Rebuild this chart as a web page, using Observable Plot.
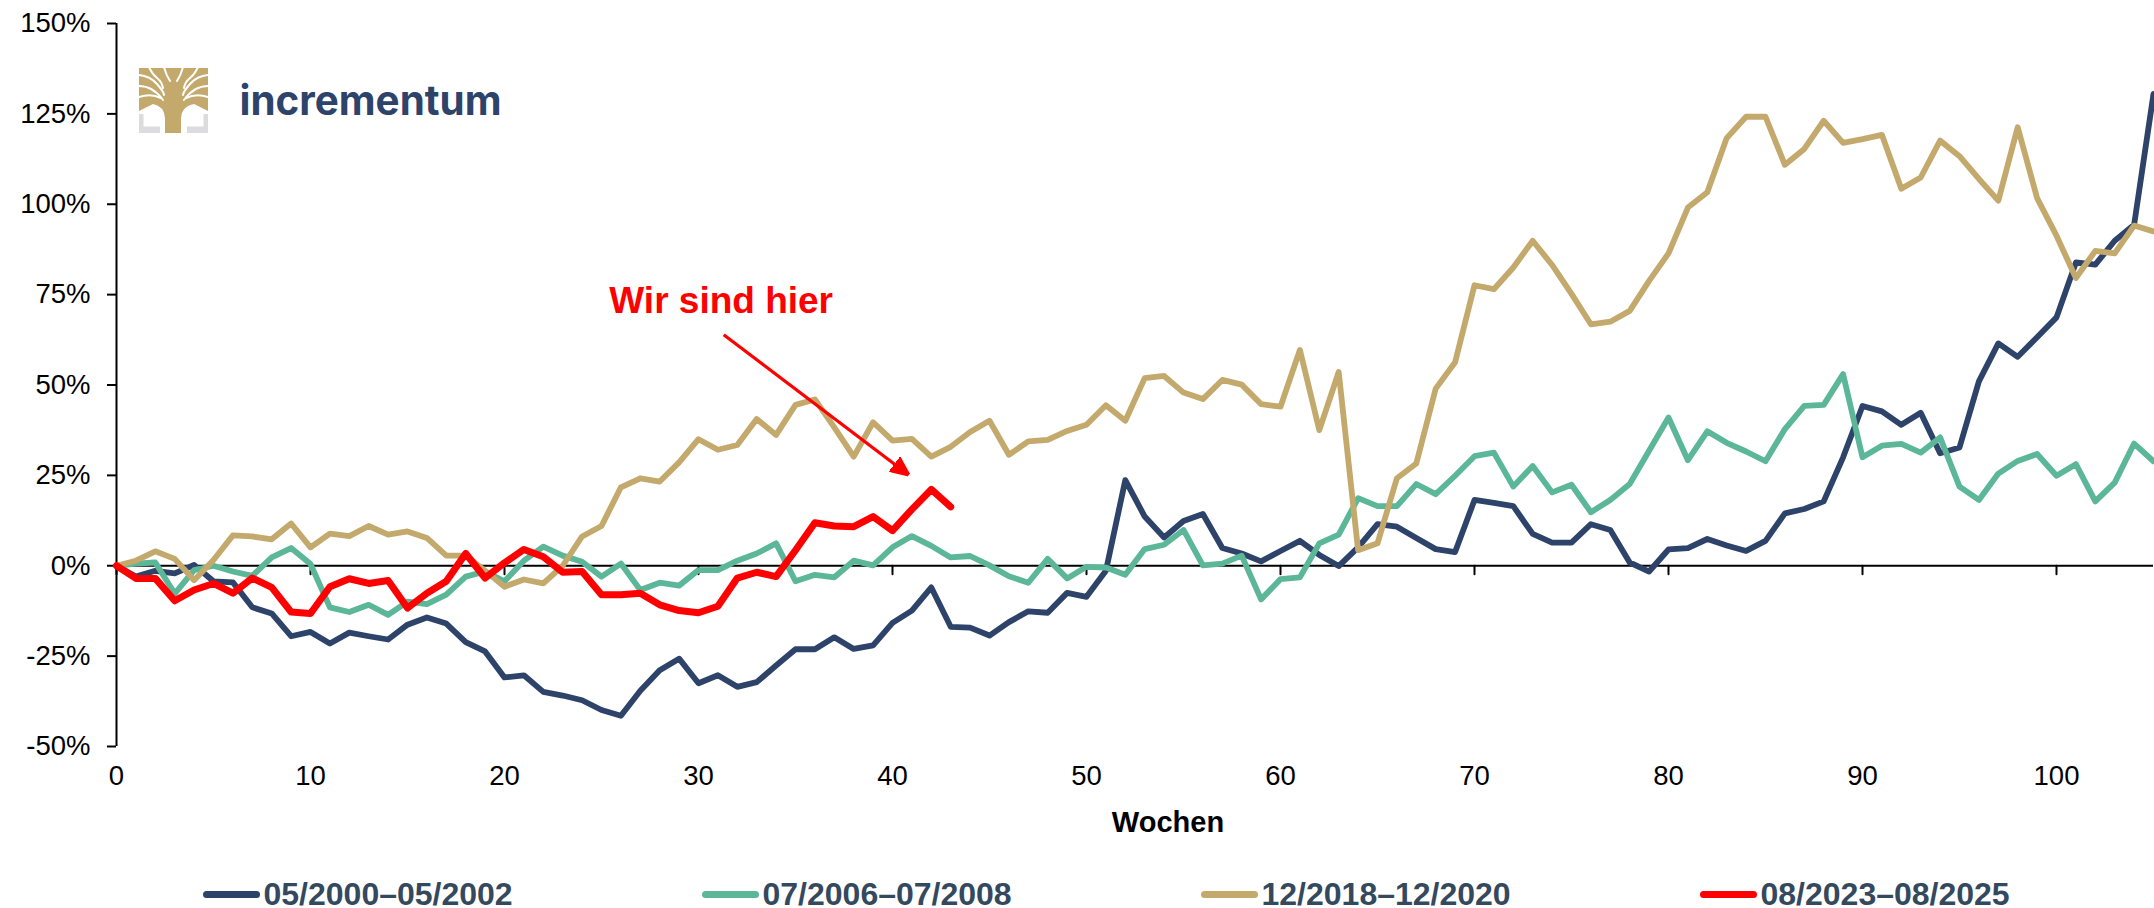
<!DOCTYPE html>
<html lang="de">
<head>
<meta charset="utf-8">
<script src="https://cdn.jsdelivr.net/npm/d3@7"></script>
<script src="https://cdn.jsdelivr.net/npm/@observablehq/plot@0.6"></script>
<style>
  html, body { margin: 0; padding: 0; background: #fff; overflow: hidden; }
  #chart { position: relative; width: 2154px; height: 908px; font-family: "Liberation Sans", Arial, sans-serif; }
  #chart svg.plot { display: block; }
  #logo { position: absolute; left: 139px; top: 68px; }
  #wordmark { position: absolute; left: 236px; top: 70px; }
  #legend { position: absolute; left: 203px; top: 874px; display: flex; }
  .item { width: 499px; display: flex; align-items: center; font-weight: 700; font-size: 32px; line-height: 40px; color: #34495e; white-space: nowrap; }
  .key { width: 57px; height: 7px; border-radius: 3.5px; margin-right: 3.5px; flex: none; }
</style>
</head>
<body>
<div id="chart"></div>
<script>
const navy = [0,-3,-1.4,-2.1,0.2,-4.3,-4.6,-11.5,-13.2,-19.5,
  -18.3,-21.5,-18.5,-19.5,-20.4,-16.3,-14.3,-16,-21.1,-23.7,
  -30.9,-30.3,-34.9,-35.9,-37.2,-39.9,-41.5,-34.6,-28.9,-25.7,
  -32.5,-30.3,-33.5,-32.2,-27.6,-23.1,-23.1,-19.8,-23,-22,
  -15.8,-12.4,-6,-16.9,-17.1,-19.3,-15.6,-12.6,-13,-7.5,
  -8.6,-1.4,23.7,13.6,7.8,12.4,14.3,4.9,3.4,1.2,
  4.1,6.9,3,-0.1,5.1,11.5,10.8,7.7,4.6,3.8,
  18.2,17.4,16.5,8.8,6.4,6.4,11.5,9.9,0.9,-1.6,
  4.5,4.9,7.4,5.6,4.1,6.9,14.5,15.7,17.8,30,
  44.2,42.7,39,42.3,31.1,32.7,51,61.5,57.8,63.2,
  68.7,83.9,83.3,89.9,94.3,130.5];
const green = [0,0.6,0.9,-7.7,-1.2,0,-1.6,-2.8,2.3,4.9,
  0.5,-11.5,-12.8,-10.8,-13.6,-9.9,-10.6,-8,-3,-1.6,
  -4.3,1.4,5.3,2.8,1.1,-3,0.6,-6.7,-4.7,-5.5,
  -1.2,-1.2,1.4,3.4,6.2,-4.3,-2.5,-3.2,1.4,0.1,
  5.1,8.2,5.5,2.3,2.7,0.1,-2.9,-4.7,1.9,-3.5,
  -0.3,-0.5,-2.5,4.6,5.8,9.9,0.1,0.6,2.8,-9.3,
  -3.7,-3.2,6.2,8.6,18.7,16.5,16.5,22.6,19.8,24.9,
  30.3,31.3,21.9,27.6,20.3,22.4,14.8,18.2,22.6,31.8,
  41,29.2,37.2,34,31.6,28.9,37.8,44.2,44.5,53,
  30,33.2,33.7,31.3,35.5,21.9,18.2,25.5,29,30.9,
  24.9,28.1,17.8,23,33.8,28.9];
const gold = [0,1.4,4,1.9,-4,1.6,8.4,8.1,7.3,11.7,
  5.1,8.9,8.2,11,8.6,9.5,7.7,2.8,2.8,-1.4,
  -5.8,-3.8,-4.9,0,8.1,11,21.7,24.2,23.3,28.6,
  35,32.1,33.4,40.6,36.2,44.5,46,38.3,30.2,39.7,
  34.6,35.1,30.2,32.9,37,40.1,30.7,34.4,34.8,37.3,
  39,44.4,40.1,51.9,52.5,47.9,46.1,51.4,50.1,44.7,
  44,59.7,37.5,53.6,4.3,6.2,24.2,28.3,49,56.3,
  77.6,76.5,82.5,89.9,83.2,75.2,66.8,67.5,70.5,78.8,
  86.4,99.1,103.3,118.3,124.2,124.2,110.9,115.3,123.1,117,
  118,119.2,104.3,107.4,117.6,113.3,107,101,121.3,101.7,
  91.3,79.6,87.1,86.4,94.1,92.5];
const red = [0,-3.5,-3.5,-9.7,-6.7,-4.9,-7.6,-3.4,-6,-12.8,
  -13.2,-5.8,-3.6,-4.9,-4.1,-11.7,-7.6,-4.3,3.4,-3.4,
  0.8,4.5,2.5,-1.8,-1.6,-8,-8,-7.6,-10.8,-12.4,
  -13,-11.2,-3.4,-1.8,-3,4.3,11.9,11,10.8,13.6,
  9.7,15.6,21.1,16.3];

const seriesLabels = ["05/2000–05/2002","07/2006–07/2008","12/2018–12/2020","08/2023–08/2025"];
const seriesColors = ["#2E4369","#5BB798","#C3A96C","#FF0000"];
const seriesWidths = [5.8,5.8,5.8,7];
const seriesValues = [navy,green,gold,red];

const xTicks = [0,10,20,30,40,50,60,70,80,90,100];
const yTicks = [-50,-25,0,25,50,75,100,125,150];
const xLabel = [{week: 54.2, text: "Wochen"}];
const note = [{week: 25.4, pct: 69.8, text: "Wir sind hier"}];
const arrow = [{week1: 31.3, pct1: 63.9, week2: 40.84, pct2: 25.1}];

function headMarker(color, context) {
  const m = context.document.createElementNS("http://www.w3.org/2000/svg", "marker");
  m.setAttribute("viewBox", "-18 -9 18 18");
  m.setAttribute("markerWidth", 18);
  m.setAttribute("markerHeight", 18);
  m.setAttribute("markerUnits", "userSpaceOnUse");
  m.setAttribute("orient", "auto");
  m.setAttribute("refX", 0);
  m.setAttribute("refY", 0);
  const p = context.document.createElementNS("http://www.w3.org/2000/svg", "path");
  p.setAttribute("d", "M0,0L-18,-8L-18,8Z");
  p.setAttribute("fill", color);
  m.appendChild(p);
  return m;
}
const tickShape = {draw(c, l) { c.moveTo(0, 0); c.lineTo(0, -l); }};

const marks = [
  Plot.axisY({ticks: yTicks, tickFormat: d => d + "%", tickSize: 9, tickPadding: 17, fontSize: 27.5, label: null, stroke: "#000", color: "#000", strokeWidth: 2}),
  Plot.axisX({ticks: xTicks, tickSize: 0, tickPadding: 19, fontSize: 27.5, label: null, color: "#000", tickFormat: d => String(d)}),
  Plot.ruleX([0], {stroke: "#000", strokeWidth: 2}),
  Plot.vector(xTicks, {x: d => d, y: () => 0, length: 8.5, rotate: 180, anchor: "start", shape: tickShape, stroke: "#000", strokeWidth: 2}),
  Plot.ruleY([0], {stroke: "#000", strokeWidth: 2}),
  ...seriesValues.map((vals, k) => Plot.line(vals, {
    x: (d, i) => i, y: d => d, stroke: seriesColors[k], strokeWidth: seriesWidths[k],
    strokeLinejoin: "round", strokeLinecap: "round", curve: "linear"
  })),
  Plot.link(arrow, {x1: "week1", y1: "pct1", x2: "week2", y2: "pct2", stroke: "#FF0000", strokeWidth: 3.2, markerEnd: headMarker}),
  Plot.text(note, {x: "week", y: "pct", text: "text", fill: "#FF0000", fontWeight: 700, fontSize: 37, textAnchor: "start", lineAnchor: "bottom"}),
  Plot.text(xLabel, {x: "week", text: "text", frameAnchor: "bottom", fontWeight: 700, fontSize: 29, fill: "#000", lineAnchor: "middle", dy: 76})
];

const plot = Plot.plot({
  width: 2154, height: 870,
  marginLeft: 116, marginRight: 1, marginTop: 23, marginBottom: 124,
  style: {background: "transparent", fontFamily: '"Liberation Sans", Arial, sans-serif', overflow: "visible"},
  x: {domain: [0, 105], range: [116, 2153]},
  y: {domain: [-50, 150], range: [746, 23]},
  marks
});

const chart = document.getElementById("chart");
chart.appendChild(plot);

// Logo: tree mark and wordmark
chart.insertAdjacentHTML("beforeend", `
<svg id="logo" width="69" height="65" viewBox="0 0 69 65">
  <path d="M0 46H4.5V58.5H21V65H0ZM69 46H64.5V58.5H48V65H69Z" fill="#DCDBDD"/>
  <path d="M0 0H69V43L55 36Q43 38 42 50V65H26V50Q25 38 14 36L0 43Z" fill="#C3A96C"/>
  <g fill="none" stroke="#fff" stroke-width="2" stroke-linecap="round">
    <path d="M0 7Q11 8 18 16T25 27"/>
    <path d="M0 18Q14 18 24 32"/>
    <path d="M0 29Q12 25 22 30"/>
    <path d="M10 -1Q13 6 18 10T24 20"/>
    <path d="M25 -1Q27 7 31 13"/>
    <path d="M44 -1Q42 7 38 13"/>
    <path d="M59 -1Q56 6 51 10T45 20"/>
    <path d="M69 7Q58 8 51 16T44 27"/>
    <path d="M69 18Q55 18 45 32"/>
    <path d="M69 29Q57 25 47 30"/>
  </g>
</svg>
<svg id="wordmark" width="280" height="60" viewBox="0 0 280 60">
  <text x="3.5" y="45" font-family="Inter" font-weight="700" font-size="41" fill="#2E4369" textLength="262" lengthAdjust="spacingAndGlyphs">incrementum</text>
</svg>`);

// Legend below the plot
const legend = document.createElement("div");
legend.id = "legend";
seriesLabels.forEach((label, k) => {
  const item = document.createElement("div");
  item.className = "item";
  const key = document.createElement("span");
  key.className = "key";
  key.style.background = seriesColors[k];
  const text = document.createElement("span");
  text.textContent = label;
  item.append(key, text);
  legend.appendChild(item);
});
chart.appendChild(legend);
</script>
</body>
</html>
